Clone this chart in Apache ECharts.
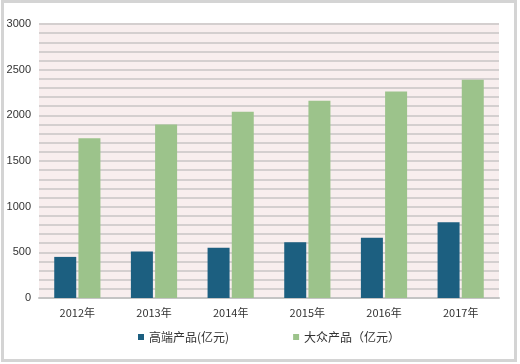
<!DOCTYPE html>
<html><head><meta charset="utf-8">
<script src="https://cdn.jsdelivr.net/npm/echarts@6/dist/echarts.min.js"></script>
<style>html,body{margin:0;padding:0;background:#fff}#c{width:520px;height:364px}</style>
</head><body><div id="c"></div>
<script>
const categories = ['2012年','2013年','2014年','2015年','2016年','2017年'];
const highEnd = [450, 510, 550, 610, 660, 830];
const mass = [1750, 1900, 2040, 2160, 2260, 2390];
const seriesNames = ['高端产品(亿元)', '大众产品（亿元）'];

const chart = echarts.init(document.getElementById('c'));
chart.setOption({
  animation: false,
  backgroundColor: '#fff',
  graphic: [{type:'rect', shape:{x:2.5,y:1.5,width:513,height:359}, style:{fill:'none', stroke:'#d4d4d4', lineWidth:3}, z:-1}],
  grid: {left:39, right:21, top:24, bottom:66, backgroundColor:'#f8eeee', show:true, borderWidth:0},
  legend: {
    bottom: 16, left: 133, itemGap: 64, itemWidth: 6, itemHeight: 6, icon: 'rect',
    textStyle: {fontSize: 12, color: '#333', fontFamily: 'Noto Sans CJK SC'},
    data: seriesNames
  },
  xAxis: {
    type: 'category', data: categories,
    axisLine: {lineStyle: {color: '#c4c4c4', width: 2}}, axisTick: {show: false},
    axisLabel: {color: '#333', fontSize: 11, margin: 9, fontFamily: 'Noto Sans CJK SC'}
  },
  yAxis: {
    type: 'value', min: 0, max: 3000, interval: 500,
    axisLine: {show: false}, axisTick: {show: false},
    axisLabel: {color: '#333', fontSize: 11, margin: 8, formatter: v => String(v)},
    splitLine: {lineStyle: {color: '#d4cfcf', width: 2}},
    minorTick: {show: false, splitNumber: 5},
    minorSplitLine: {show: true, lineStyle: {color: '#d4cfcf', width: 2}}
  },
  series: [
    {name: seriesNames[0], type: 'bar', data: highEnd, barWidth: 22, barGap: '10%',
     itemStyle: {color: '#1c5f80'}},
    {name: seriesNames[1], type: 'bar', data: mass, barWidth: 22,
     itemStyle: {color: '#9cc38b'}}
  ]
});
</script></body></html>
